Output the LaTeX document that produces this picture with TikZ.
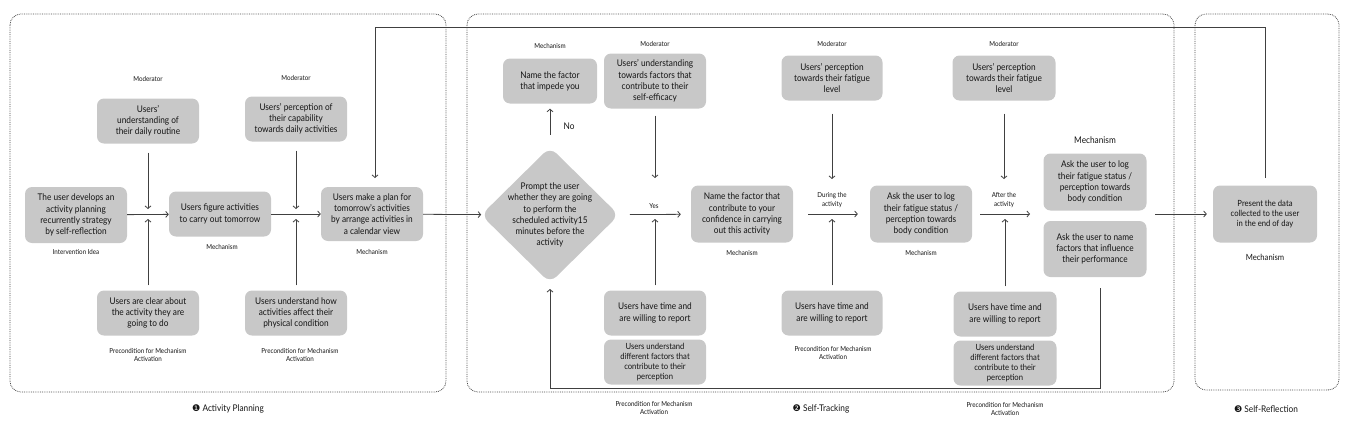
\documentclass[tikz,border=0pt]{standalone}
\usepackage{fontspec}
\setmainfont{Lato}[FakeStretch=0.9]
\newfontfamily\dingfont{DejaVu Sans}
\usetikzlibrary{arrows.meta,shapes.geometric}
\definecolor{pbox}{HTML}{C8C8C8}
\definecolor{ptext}{HTML}{141414}
\definecolor{pline}{HTML}{404040}
\definecolor{pdot}{HTML}{4A4A4A}
\newcommand{\boxfont}{\fontsize{9.2}{11.2}\selectfont}
\newcommand{\subfont}{\fontsize{8.5}{10.2}\selectfont}
\newcommand{\tagfont}{\fontsize{6.9}{8.6}\selectfont}
\newcommand{\headfont}{\fontsize{9.2}{11}\selectfont}
\tikzset{
  box/.style={fill=pbox, rounded corners=7pt, align=center, text=ptext,
    font=\boxfont, inner sep=2pt, minimum width=102pt, minimum height=45pt},
  arr/.style={-{Straight Barb[length=2.6pt, width=6pt]}, line width=0.8pt, pline},
  tag/.style={font=\tagfont, text=ptext, align=center},
  panel/.style={densely dotted, line width=0.8pt, pdot, rounded corners=11pt},
}

\begin{document}
\begin{tikzpicture}[x=1pt, y=-1pt]
  \useasboundingbox (0,0) rectangle (1350,426);
  % panels
  \draw[panel] (10,14) rectangle (446,392);
  \draw[panel] (467,14) rectangle (1174,392);
  \draw[panel] (1195,14) rectangle (1339,390);
  \node[font=\headfont, text=ptext] (t1) at (228,409) {{\dingfont ❶}\ Activity Planning};
  \node[font=\headfont, text=ptext] (t2) at (821,409) {{\dingfont ❷}\ Self-Tracking};
  \node[font=\headfont, text=ptext] (t3) at (1266,409) {{\dingfont ❸}\ Self-Reflection};

  % activity planning
  \node[tag] (m1) at (148,79) {Moderator};
  \node[box] (mod1) at (148,121) {Users’\\understanding of\\their daily routine};
  \node[tag] (m2) at (296,78) {Moderator};
  \node[box] (mod2) at (296,119) {Users' perception of\\their capability\\towards daily activities};
  \node[box, minimum height=56pt] (idea) at (76,215) {The user develops an\\activity planning\\recurrently strategy\\by self-reflection};
  \node[tag] (ii) at (76,252) {Intervention Idea};
  \node[box] (figure) at (220,214) {Users figure activities\\to carry out tomorrow};
  \node[tag] (me1) at (222,247) {Mechanism};
  \node[box, minimum height=54pt] (plan) at (372,214) {Users make a plan for\\tomorrow’s activities\\by arrange activities in\\a calendar view};
  \node[tag] (me2) at (372,252) {Mechanism};
  \node[box] (pre1) at (148,313) {Users are clear about\\the activity they are\\going to do};
  \node[tag] (pc1) at (148,355) {Precondition for Mechanism\\Activation};
  \node[box] (pre2) at (296,313) {Users understand how\\activities affect their\\physical condition};
  \node[tag] (pc2) at (300,355) {Precondition for Mechanism\\Activation};

  \coordinate (j1) at (148,214);
  \coordinate (j2) at (296,214);
  \draw[arr] (idea) -- (figure);
  \draw[arr] (figure) -- (plan);
  \draw[arr, shorten <=9pt, shorten >=5pt] (mod1) -- (j1);
  \draw[arr, shorten <=5pt, shorten >=5pt] (pre1) -- (j1);
  \draw[arr, shorten <=9pt, shorten >=5pt] (mod2) -- (j2);
  \draw[arr, shorten <=5pt, shorten >=5pt] (pre2) -- (j2);

  % self-tracking
  \node[tag] (me3) at (550,46) {Mechanism};
  \node[box, minimum width=94pt] (impede) at (550,81) {Name the factor\\that impede you};
  \node[tag] (m3) at (655,44) {Moderator};
  \node[box, minimum height=55pt] (mod3) at (655,81) {Users’ understanding\\towards factors that\\contribute to their\\self-efficacy};
  \node[diamond, fill=pbox, rounded corners=9pt, minimum width=138pt, minimum height=136pt,
    inner sep=-6pt, align=center, text=ptext, font=\boxfont] (prompt) at (550,215)
    {Prompt the user\\whether they are going\\to perform the\\scheduled activity15\\minutes before the\\activity};
  \node[font=\boxfont, text=ptext] (no) at (569,126) {No};
  \node[tag] (yes) at (654,206) {Yes};
  \node[box, minimum height=57pt] (confid) at (742,214) {Name the factor that\\contribute to your\\confidence in carrying\\out this activity};
  \node[tag] (me4) at (742,253) {Mechanism};
  \node[box] (time1) at (655,313) {Users have time and\\are willing to report};
  \node[box, font=\subfont] (und1) at (655,362) {Users understand\\different factors that\\contribute to their\\perception};
  \node[tag] (pc3) at (654,408) {Precondition for Mechanism\\Activation};

  \node[tag] (m4) at (832,44) {Moderator};
  \node[box, minimum width=101pt] (mod4) at (832,78) {Users’ perception\\towards their fatigue\\level};
  \node[tag] (dur) at (832,200) {During the\\activity};
  \node[box, minimum height=57pt] (log1) at (921,214) {Ask the user to log\\their fatigue status /\\perception towards\\body condition};
  \node[tag] (me5) at (921,253) {Mechanism};
  \node[box, minimum width=101pt] (time2) at (832,313) {Users have time and\\are willing to report};
  \node[tag] (pc4) at (833,353) {Precondition for Mechanism\\Activation};

  \node[tag] (m5) at (1004,44) {Moderator};
  \node[box, minimum width=103pt] (mod5) at (1004,78) {Users’ perception\\towards their fatigue\\level};
  \node[tag] (aft) at (1004,200) {After the\\activity};
  \node[box, minimum width=103pt] (time3) at (1005,314) {Users have time and\\are willing to report};
  \node[box, minimum width=103pt, font=\subfont] (und2) at (1005,363) {Users understand\\different factors that\\contribute to their\\perception};
  \node[tag] (pc5) at (1005,409) {Precondition for Mechanism\\Activation};
  \node[font=\boxfont, text=ptext] (me6) at (1095,140) {Mechanism};
  \node[box, minimum width=103pt, minimum height=57pt] (log2) at (1095,182) {Ask the user to log\\their fatigue status /\\perception towards\\body condition};
  \node[box, minimum width=103pt, minimum height=56pt] (name2) at (1095,249) {Ask the user to name\\factors that influence\\their performance};

  \coordinate (j3) at (655,214);
  \coordinate (j3t) at (655,178);
  \coordinate (j4) at (832,214);
  \coordinate (j4t) at (832,179);
  \coordinate (j5) at (1005,214);
  \coordinate (j5t) at (1004,179);
  \coordinate (grpw) at (1044,214);
  \coordinate (grpe) at (1147,214);
  \draw[arr] (plan) -- (prompt);
  \draw[arr, shorten <=12pt, shorten >=5pt] (prompt) -- (impede);
  \draw[arr, shorten <=11pt, shorten >=10pt] (prompt) -- (confid);
  \draw[arr, shorten <=7pt] (mod3) -- (j3t);
  \draw[arr, shorten <=5pt, shorten >=5pt] (time1) -- (j3);
  \draw[arr, shorten <=15pt, shorten >=12pt] (confid) -- (log1);
  \draw[arr, shorten <=13pt] (mod4) -- (j4t);
  \draw[arr, shorten <=5pt, shorten >=5pt] (time2) -- (j4);
  \draw[arr, shorten <=8pt, shorten >=14pt] (log1) -- (grpw);
  \draw[arr, shorten <=13pt] (mod5) -- (j5t);
  \draw[arr, shorten <=5pt, shorten >=5pt] (time3) -- (j5);

  % self-reflection
  \node[box, minimum width=104pt, minimum height=57pt, font=\subfont] (present) at (1265,214) {Present the data\\collected to the user\\in the end of day};
  \node[font=\subfont, text=ptext] (me7) at (1265,257) {Mechanism};
  \draw[arr, shorten <=8pt, shorten >=6pt] (grpe) -- (present);

  % loops
  \coordinate (lps) at (1100,288);
  \coordinate (lpc) at (550,388);
  \coordinate (lpe) at (550,289);
  \draw[arr] (lps) |- (lpc) -- (lpe);
  \coordinate (fbs) at (1265,178);
  \coordinate (fbt) at (375,27);
  \coordinate (fbe) at (375,178);
  \draw[arr] (fbs) |- (fbt) -- (fbe);
\end{tikzpicture}
\end{document}
